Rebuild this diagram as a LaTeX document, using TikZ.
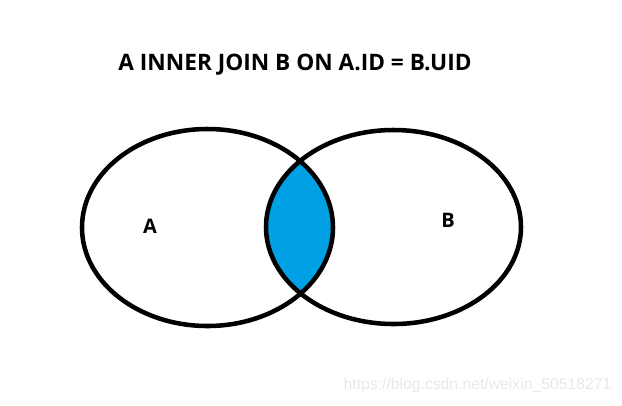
\documentclass[tikz,border=0pt]{standalone}
\usepackage{fontspec}
\setmainfont{Open Sans}
\newfontfamily\markfont{Liberation Sans}
\usepackage{xcolor}
\usepackage{tikz}
\usetikzlibrary{calc}
\definecolor{joinblue}{HTML}{00A1E4}
\definecolor{markgray}{HTML}{E8E8E8}
\begin{document}
\begin{tikzpicture}[x=0.75pt, y=-0.75pt, line width=3.4pt]

\useasboundingbox (0,0) rectangle (622,405);

\def\setA{(207.5,227.5) ellipse [x radius=125.5, y radius=98.5]}
\def\setB{(393.5,227) ellipse [x radius=127.5, y radius=97]}

\begin{scope}
	\clip \setA;
	\fill[joinblue] \setB;
\end{scope}
\draw \setA;
\draw \setB;

\node (title) at (295,65) {\fontsize{17}{20}\selectfont\bfseries A INNER JOIN B ON A.ID = B.UID};
\node (labA) at (150,226) {\fontsize{15}{16}\selectfont\bfseries A};
\node (labB) at (448,220) {\fontsize{15}{16}\selectfont\bfseries B};
\node[text=markgray] (mark) at (477.5,385) {\markfont\fontsize{11.8}{13}\selectfont https://blog.csdn.net/weixin\_50518271};

\end{tikzpicture}
\end{document}
